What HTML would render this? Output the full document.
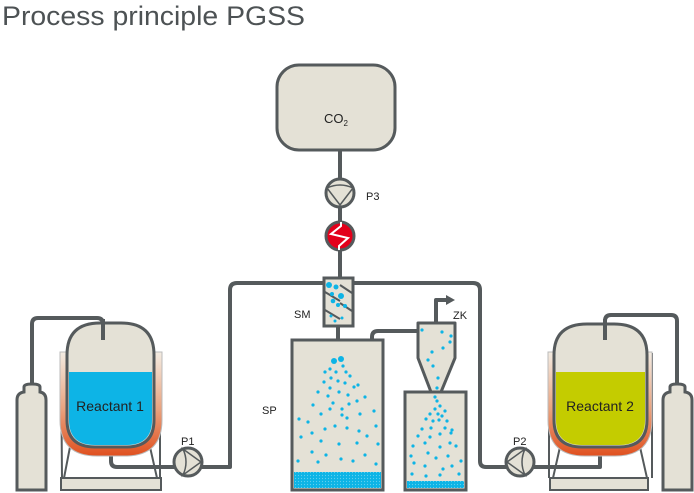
<!DOCTYPE html>
<html><head><meta charset="utf-8"><style>html,body{margin:0;padding:0;background:#fff}svg{display:block}</style></head>
<body>
<svg width="694" height="493" viewBox="0 0 694 493" xmlns="http://www.w3.org/2000/svg" font-family="Liberation Sans, sans-serif">
<defs>
<linearGradient id="jk" x1="0" y1="0" x2="0" y2="1">
<stop offset="0" stop-color="#f3ece2"/><stop offset="0.55" stop-color="#e9a27e"/><stop offset="1" stop-color="#e0501f"/>
</linearGradient>
<pattern id="pw" width="3" height="3" patternUnits="userSpaceOnUse"><rect width="3" height="3" fill="#0db4e6"/><circle cx="1.5" cy="1.5" r="0.6" fill="#5fd0f0"/></pattern>
</defs>
<text x="2" y="25" font-size="27" fill="#4d5254" textLength="303" lengthAdjust="spacingAndGlyphs">Process principle PGSS</text>
<g fill="none" stroke="#555a5c" stroke-width="4" stroke-linejoin="round">
<path d="M32 388 V324 Q32 318 38 318 H97 Q103 318 103 324 V340"/>
<path d="M111 440 V461 Q111 467 117 467 H230 Q230 467 230 461 V290 Q230 283 237 283 H473 Q480 283 480 290 V461 Q480 467 486 467 H600 V440"/>
<path d="M677 388 V321 Q677 315 671 315 H611 Q605 315 605 321 V340"/>
<path d="M340 150 V280"/>
<path d="M338 326 V340"/>
<path d="M372 341 V337 Q372 331 378 331 H420"/>
<path d="M436 325 V300 H446"/>
</g>
<polygon points="446,295 455,300 446,305" fill="#555a5c"/>
<polygon points="333,339 343,339 338,348" fill="#555a5c"/>
<rect x="277" y="65" width="118" height="85" rx="22" fill="#e4e1d6" stroke="#555a5c" stroke-width="3"/>
<text x="324" y="123" font-size="13" fill="#222">CO<tspan font-size="8" dy="3">2</tspan></text>
<circle cx="340" cy="193" r="14" fill="#e4e1d6" stroke="#555a5c" stroke-width="3"/>
<path d="M327 188 Q340 182 353 188 L340 205 Z" fill="none" stroke="#555a5c" stroke-width="1.5"/>
<text x="366" y="200" font-size="11" fill="#222">P3</text>
<circle cx="340" cy="236" r="14" fill="#e3001b" stroke="#555a5c" stroke-width="3"/>
<path d="M341 222 L341 226 L331 234 L348 238 L339 246 L339 250" fill="none" stroke="#fff" stroke-width="2"/>
<rect x="324" y="278" width="29" height="48" fill="#e4e1d6" stroke="#555a5c" stroke-width="3"/>
<g stroke="#555a5c" stroke-width="2"><line x1="340" y1="285" x2="352" y2="293"/><line x1="325" y1="292" x2="340" y2="301"/><line x1="340" y1="303" x2="352" y2="311"/><line x1="325" y1="310" x2="340" y2="319"/></g>
<g fill="#0db4e6"><circle cx="329" cy="285" r="3"/><circle cx="336" cy="287" r="2.5"/><circle cx="341" cy="296" r="3"/><circle cx="332" cy="294" r="2"/><circle cx="333" cy="301" r="2.3"/><circle cx="345" cy="306" r="2"/><circle cx="338" cy="305" r="2"/><circle cx="331" cy="316" r="1.5"/><circle cx="342" cy="318" r="1.5"/><circle cx="335" cy="321" r="1.5"/></g>
<text x="294" y="318" font-size="11" fill="#222">SM</text>
<rect x="292" y="340" width="91" height="150" fill="#e4e1d6" stroke="#555a5c" stroke-width="3"/>
<rect x="294" y="472" width="87" height="16" fill="url(#pw)"/>
<text x="262" y="414" font-size="11" fill="#222">SP</text>
<g fill="#0db4e6">
<circle cx="334" cy="361" r="3"/><circle cx="341" cy="359" r="3"/>
<circle cx="325" cy="372" r="1.6"/><circle cx="330" cy="369" r="1.6"/><circle cx="336" cy="372" r="1.6"/><circle cx="343" cy="366" r="1.6"/><circle cx="346" cy="372" r="1.6"/><circle cx="350" cy="376" r="1.6"/><circle cx="324" cy="382" r="1.6"/><circle cx="331" cy="378" r="1.6"/><circle cx="338" cy="381" r="1.6"/><circle cx="345" cy="383" r="1.6"/><circle cx="354" cy="387" r="1.6"/><circle cx="330" cy="388" r="1.6"/><circle cx="318" cy="392" r="1.6"/><circle cx="339" cy="392" r="1.6"/><circle cx="358" cy="385" r="1.6"/><circle cx="328" cy="396" r="1.6"/><circle cx="348" cy="395" r="1.6"/><circle cx="365" cy="397" r="1.6"/><circle cx="349" cy="404" r="1.6"/><circle cx="333" cy="403" r="1.6"/><circle cx="357" cy="401" r="1.6"/><circle cx="313" cy="405" r="1.6"/><circle cx="330" cy="409" r="1.6"/><circle cx="342" cy="409" r="1.6"/><circle cx="321" cy="414" r="1.6"/><circle cx="374" cy="411" r="1.6"/><circle cx="342" cy="415" r="1.6"/><circle cx="347" cy="418" r="1.6"/><circle cx="360" cy="414" r="1.6"/><circle cx="299" cy="419" r="1.6"/><circle cx="308" cy="422" r="1.6"/><circle cx="335" cy="426" r="1.6"/><circle cx="376" cy="426" r="1.6"/><circle cx="325" cy="429" r="1.6"/><circle cx="347" cy="428" r="1.6"/><circle cx="359" cy="431" r="1.6"/><circle cx="312" cy="433" r="1.6"/><circle cx="367" cy="436" r="1.6"/><circle cx="301" cy="437" r="1.6"/><circle cx="321" cy="441" r="1.6"/><circle cx="339" cy="444" r="1.6"/><circle cx="357" cy="443" r="1.6"/><circle cx="378" cy="444" r="1.6"/><circle cx="312" cy="452" r="1.6"/><circle cx="326" cy="455" r="1.6"/><circle cx="365" cy="455" r="1.6"/><circle cx="298" cy="461" r="1.6"/><circle cx="318" cy="462" r="1.6"/><circle cx="341" cy="459" r="1.6"/><circle cx="353" cy="461" r="1.6"/><circle cx="376" cy="464" r="1.6"/>
</g>
<path d="M418 323 H455 V358 L441 392 H431 L418 358 Z" fill="#e4e1d6" stroke="#555a5c" stroke-width="3" stroke-linejoin="round"/>
<text x="453" y="319" font-size="11" fill="#222">ZK</text>
<rect x="405" y="392" width="61" height="98" fill="#e4e1d6" stroke="#555a5c" stroke-width="3"/>
<rect x="407" y="481" width="57" height="7" fill="url(#pw)"/>
<g fill="#0db4e6">
<circle cx="422" cy="330" r="1.6"/><circle cx="442" cy="332" r="1.6"/><circle cx="451" cy="336" r="1.6"/><circle cx="450" cy="342" r="1.6"/><circle cx="432" cy="352" r="1.6"/><circle cx="443" cy="348" r="1.6"/><circle cx="428" cy="360" r="1.6"/><circle cx="433" cy="366" r="1.6"/><circle cx="438" cy="378" r="1.6"/><circle cx="437" cy="388" r="1.6"/>
<circle cx="435" cy="397" r="1.6"/><circle cx="437" cy="401" r="1.6"/><circle cx="440" cy="406" r="1.6"/><circle cx="435" cy="409" r="1.6"/><circle cx="445" cy="411" r="1.6"/><circle cx="430" cy="414" r="1.6"/><circle cx="438" cy="414" r="1.6"/><circle cx="442" cy="416" r="1.6"/><circle cx="426" cy="419" r="1.6"/><circle cx="433" cy="421" r="1.6"/><circle cx="439" cy="420" r="1.6"/><circle cx="447" cy="421" r="1.6"/><circle cx="422" cy="429" r="1.6"/><circle cx="431" cy="428" r="1.6"/><circle cx="445" cy="428" r="1.6"/><circle cx="452" cy="430" r="1.6"/><circle cx="418" cy="436" r="1.6"/><circle cx="430" cy="437" r="1.6"/><circle cx="440" cy="434" r="1.6"/><circle cx="451" cy="433" r="1.6"/><circle cx="413" cy="446" r="1.6"/><circle cx="425" cy="443" r="1.6"/><circle cx="440" cy="447" r="1.6"/><circle cx="450" cy="443" r="1.6"/><circle cx="456" cy="446" r="1.6"/><circle cx="411" cy="456" r="1.6"/><circle cx="428" cy="453" r="1.6"/><circle cx="436" cy="458" r="1.6"/><circle cx="448" cy="456" r="1.6"/><circle cx="461" cy="461" r="1.6"/><circle cx="414" cy="463" r="1.6"/><circle cx="425" cy="466" r="1.6"/><circle cx="443" cy="469" r="1.6"/><circle cx="452" cy="466" r="1.6"/><circle cx="412" cy="474" r="1.6"/><circle cx="426" cy="476" r="1.6"/><circle cx="440" cy="475" r="1.6"/><circle cx="459" cy="474" r="1.6"/>
</g>
<path d="M61 353 L62 478 M160 353 L160 478" stroke="#555a5c" stroke-width="2"/>
<path d="M70 447 L64 478 M150 447 L157 478" stroke="#555a5c" stroke-width="2"/>
<rect x="61" y="478" width="100" height="12" fill="#e4e1d6" stroke="#555a5c" stroke-width="2"/>
<path d="M60 352 H162 V420 Q162 456 125 456 H97 Q60 456 60 420 Z" fill="url(#jk)" stroke="#bbb" stroke-width="1"/>
<path d="M67 355 Q67 323 100 323 H121 Q154 323 154 355 V420 Q154 447 126 447 H95 Q67 447 67 420 Z" fill="#e4e1d6" stroke="#555a5c" stroke-width="3"/>
<path d="M69 372 H152 V420 Q152 445 126 445 H95 Q69 445 69 420 Z" fill="#0db4e6"/>
<path d="M103 319 V340" stroke="#555a5c" stroke-width="4"/>
<text x="110" y="411" font-size="14" fill="#222" text-anchor="middle">Reactant 1</text>
<path d="M17 400 Q17 393 24 392 V387 Q24 384 32 384 Q40 384 40 387 V392 Q46 393 46 400 V490 H17 Z" fill="#e4e1d6" stroke="#555a5c" stroke-width="3"/>
<path d="M549 353 L549 478 M652 353 L652 478" stroke="#555a5c" stroke-width="2"/>
<path d="M560 447 L553 478 M640 447 L647 478" stroke="#555a5c" stroke-width="2"/>
<rect x="550" y="478" width="98" height="12" fill="#e4e1d6" stroke="#555a5c" stroke-width="2"/>
<path d="M548 352 H652 V420 Q652 456 615 456 H585 Q548 456 548 420 Z" fill="url(#jk)" stroke="#bbb" stroke-width="1"/>
<path d="M554 355 Q554 324 587 324 H614 Q647 324 647 355 V420 Q647 447 619 447 H582 Q554 447 554 420 Z" fill="#e4e1d6" stroke="#555a5c" stroke-width="3"/>
<path d="M556 372 H645 V420 Q645 445 619 445 H582 Q556 445 556 420 Z" fill="#c4cc00"/>
<path d="M605 319 V340" stroke="#555a5c" stroke-width="4"/>
<text x="600" y="411" font-size="14" fill="#222" text-anchor="middle">Reactant 2</text>
<path d="M663 400 Q663 393 670 392 V387 Q670 384 677 384 Q685 384 685 387 V392 Q692 393 692 400 V490 H663 Z" fill="#e4e1d6" stroke="#555a5c" stroke-width="3"/>
<circle cx="188" cy="462" r="14" fill="#e4e1d6" stroke="#555a5c" stroke-width="3"/>
<path d="M183 449 Q189 462 183 475 L201 462 Z" fill="none" stroke="#555a5c" stroke-width="1.5"/>
<text x="181" y="445" font-size="11" fill="#222">P1</text>
<circle cx="520" cy="462" r="14" fill="#e4e1d6" stroke="#555a5c" stroke-width="3"/>
<path d="M525 449 Q519 462 525 475 L507 462 Z" fill="none" stroke="#555a5c" stroke-width="1.5"/>
<text x="513" y="445" font-size="11" fill="#222">P2</text>
</svg>
</body></html>
